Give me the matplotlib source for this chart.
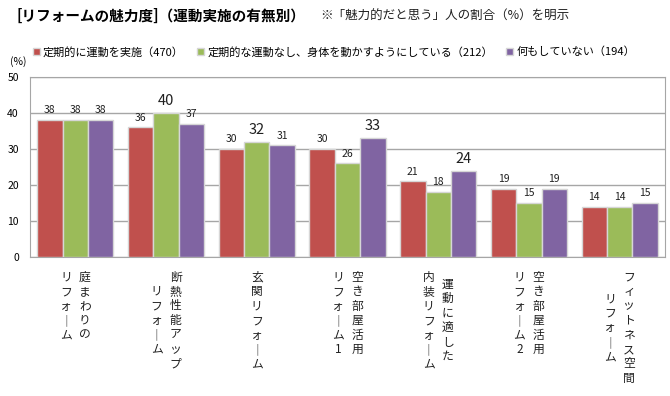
import numpy as np
import matplotlib.pyplot as plt

plt.rcParams['font.family'] = ['Noto Sans CJK JP', 'DejaVu Sans']

# --- data ---
categories = [
    ["庭まわりの", "リフォーム"],
    ["断熱性能アップ", "リフォーム"],
    ["玄関リフォーム"],
    ["空き部屋活用", "リフォーム1"],
    ["運動に適した", "内装リフォーム"],
    ["空き部屋活用", "リフォーム2"],
    ["フィットネス空間", "リフォーム"],
]
series_names = ["定期的に運動を実施（470）",
                "定期的な運動なし、身体を動かすようにしている（212）",
                "何もしていない（194）"]
regular = [38, 36, 30, 30, 21, 19, 14]
some_move = [38, 40, 32, 26, 18, 15, 14]
nothing = [38, 37, 31, 33, 24, 19, 15]
series = [regular, some_move, nothing]
# (category, series) labels shown larger in the original
highlight = [(1, 1), (2, 1), (3, 2), (4, 2)]
colors = ["#C0504D", "#9BBB59", "#8064A2"]
yticks = [0, 10, 20, 30, 40, 50]

W, H = 670, 396
fig = plt.figure(figsize=(W / 100, H / 100), dpi=100)
ax = fig.add_axes([30 / W, 1 - 257 / H, 635 / W, 180 / H])

x = np.arange(len(categories))
bw = 0.28
for i, (s, c) in enumerate(zip(series, colors)):
    bars = ax.bar(x + (i - 1) * bw, s, bw, color=c, edgecolor="#d6d6d6",
                  linewidth=1.0, zorder=3, label=series_names[i])
    for j, b in enumerate(bars):
        big = (j, i) in highlight
        ax.annotate(str(s[j]), (b.get_x() + b.get_width() / 2, s[j]),
                    xytext=(0, 3.5), textcoords="offset points",
                    ha="center", va="bottom",
                    fontsize=10.5 if big else 7.5, color="#202020")

ax.set_xlim(-0.5, len(categories) - 0.5)
ax.set_ylim(0, 50)
ax.set_yticks(yticks)
ax.tick_params(axis="y", length=0, labelsize=7.5, pad=8)
ax.set_xticks([])
ax.yaxis.grid(True, color="#a6a6a6", linewidth=1, zorder=0)
for sp in ax.spines.values():
    sp.set_color("#a6a6a6")

# vertical category labels (columns right to left)
pitch = 14.5 / H
col_gap = 19 / W
top = 1 - 277 / H
for j, lines in enumerate(categories):
    xc = ax.transData.transform((x[j], 0))
    xc = fig.transFigure.inverted().transform(xc)[0]
    nmax = max(len(l) for l in lines)
    ncol = len(lines)
    for k, line in enumerate(lines):
        cx = xc + ((ncol - 1) / 2 - k) * col_gap
        y0 = top - (nmax - len(line)) / 2 * pitch
        for m, ch in enumerate(line):
            ch = "｜" if ch == "ー" else ch
            fig.text(cx, y0 - m * pitch, ch, ha="center", va="center",
                     fontsize=8.5, color="#202020")

# titles
fig.text(17 / W, 1 - 16 / H, "[リフォームの魅力度]（運動実施の有無別）",
         fontsize=10.5, fontweight="bold", va="center", ha="left")
fig.text(320 / W, 1 - 16 / H, "※「魅力的だと思う」人の割合（%）を明示",
         fontsize=9, va="center", ha="left", color="#202020")
fig.text(10 / W, 1 - 62 / H, "(%)", fontsize=7.5, va="center", ha="left")

ax.legend(loc="center left", bbox_to_anchor=(33 / W, 1 - 52 / H),
          bbox_transform=fig.transFigure, ncol=3, frameon=False,
          fontsize=8, handlelength=0.6, handleheight=0.6, handletextpad=0.3,
          columnspacing=1.2, borderaxespad=0, borderpad=0)

fig.savefig("out.png", dpi=100)
